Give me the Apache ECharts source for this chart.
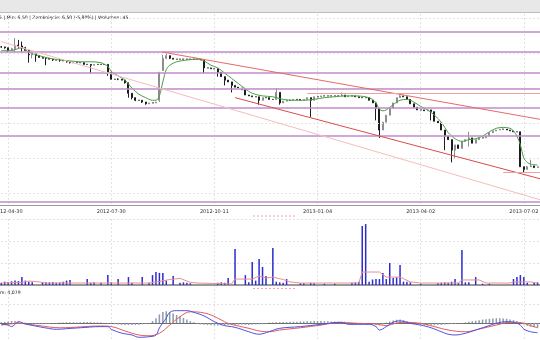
<!DOCTYPE html>
<html>
<head>
<meta charset="utf-8">
<script src="https://cdn.jsdelivr.net/npm/echarts@6/dist/echarts.min.js"></script>
<style>
html,body{margin:0;padding:0;background:#fff;}
#chart{width:540px;height:340px;}
</style>
</head>
<body>
<div id="chart"></div>
<script>
// Session index of the first visible candle (x axis counts sessions)
const firstIndex = 28;

// Date labels for every 30th session (30, 60, ... 180)
const tickLabels = ['2012-04-30', '2012-07-30', '2012-10-11', '2013-01-04', '2013-04-02', '2013-07-02'];

// Daily candles: [open, close, low, high]
const ohlc = [
  [7.87,7.87,7.86,7.88],[7.87,7.86,7.85,7.87],[7.86,7.83,7.81,7.86],[7.83,7.85,7.83,7.86],
  [7.85,7.89,7.81,7.97],[7.89,7.88,7.86,7.95],[7.88,7.86,7.81,7.93],[7.86,7.83,7.83,7.87],
  [7.83,7.78,7.69,7.83],[7.78,7.79,7.74,7.80],[7.79,7.77,7.70,7.79],[7.77,7.75,7.75,7.77],
  [7.75,7.74,7.74,7.75],[7.74,7.74,7.66,7.75],[7.74,7.73,7.73,7.74],[7.73,7.72,7.71,7.73],
  [7.72,7.72,7.72,7.72],[7.72,7.72,7.70,7.73],[7.72,7.71,7.71,7.72],[7.71,7.70,7.69,7.71],
  [7.70,7.69,7.68,7.70],[7.69,7.69,7.69,7.69],[7.69,7.69,7.69,7.69],[7.69,7.69,7.69,7.69],
  [7.69,7.67,7.67,7.69],[7.67,7.67,7.67,7.67],[7.67,7.66,7.57,7.67],[7.66,7.67,7.66,7.67],
  [7.67,7.67,7.67,7.67],[7.67,7.67,7.67,7.67],[7.67,7.67,7.67,7.67],[7.67,7.58,7.54,7.67],
  [7.58,7.50,7.50,7.58],[7.50,7.50,7.50,7.50],[7.50,7.50,7.49,7.51],[7.50,7.49,7.49,7.50],
  [7.49,7.46,7.45,7.49],[7.46,7.34,7.29,7.41],[7.34,7.29,7.27,7.34],[7.29,7.26,7.25,7.29],
  [7.26,7.26,7.26,7.26],[7.26,7.24,7.23,7.26],[7.24,7.22,7.21,7.24],[7.22,7.23,7.22,7.23],
  [7.23,7.23,7.23,7.23],[7.23,7.24,7.23,7.24],[7.26,7.58,7.24,7.58],[7.60,7.74,7.60,7.78],
  [7.74,7.77,7.73,7.80],[7.77,7.74,7.73,7.77],[7.74,7.73,7.73,7.74],[7.73,7.73,7.73,7.73],
  [7.73,7.73,7.73,7.73],[7.73,7.73,7.73,7.73],[7.73,7.73,7.73,7.73],[7.73,7.73,7.73,7.73],
  [7.73,7.73,7.73,7.73],[7.73,7.73,7.73,7.73],[7.73,7.72,7.72,7.73],[7.72,7.63,7.57,7.72],
  [7.63,7.63,7.63,7.63],[7.63,7.62,7.62,7.63],[7.62,7.62,7.62,7.62],[7.62,7.58,7.53,7.62],
  [7.58,7.53,7.53,7.58],[7.53,7.49,7.43,7.53],[7.49,7.47,7.47,7.49],[7.47,7.43,7.35,7.47],
  [7.43,7.41,7.41,7.43],[7.41,7.40,7.40,7.41],[7.40,7.38,7.38,7.40],[7.38,7.32,7.32,7.38],
  [7.32,7.31,7.31,7.32],[7.31,7.30,7.30,7.31],[7.30,7.30,7.30,7.30],[7.30,7.26,7.21,7.30],
  [7.26,7.29,7.26,7.29],[7.29,7.29,7.29,7.29],[7.29,7.27,7.27,7.29],[7.27,7.27,7.27,7.27],
  [7.27,7.35,7.27,7.40],[7.35,7.23,7.21,7.35],[7.23,7.25,7.23,7.25],[7.25,7.26,7.25,7.26],
  [7.26,7.26,7.26,7.26],[7.26,7.27,7.26,7.27],[7.27,7.27,7.27,7.27],[7.27,7.26,7.26,7.27],
  [7.26,7.27,7.26,7.27],[7.27,7.29,7.27,7.29],[7.29,7.26,7.07,7.29],[7.26,7.30,7.26,7.30],
  [7.30,7.30,7.30,7.30],[7.30,7.31,7.30,7.31],[7.31,7.31,7.31,7.31],[7.31,7.31,7.31,7.31],
  [7.31,7.31,7.31,7.31],[7.31,7.31,7.31,7.31],[7.31,7.31,7.31,7.31],[7.31,7.32,7.31,7.35],
  [7.32,7.30,7.30,7.32],[7.30,7.31,7.30,7.31],[7.31,7.31,7.31,7.31],[7.31,7.30,7.30,7.31],
  [7.30,7.29,7.29,7.30],[7.29,7.29,7.29,7.29],[7.29,7.29,7.29,7.29],[7.29,7.26,7.26,7.29],
  [7.26,7.23,7.23,7.26],[7.23,7.17,7.03,7.23],[7.17,6.92,6.83,7.17],[6.92,7.01,6.92,7.01],
  [7.01,7.09,7.01,7.09],[7.09,7.17,7.09,7.17],[7.17,7.23,7.17,7.23],[7.23,7.29,7.23,7.29],
  [7.29,7.31,7.29,7.32],[7.31,7.30,7.30,7.31],[7.30,7.27,7.27,7.30],[7.27,7.22,7.22,7.27],
  [7.22,7.18,7.18,7.22],[7.18,7.15,7.15,7.18],[7.15,7.15,7.15,7.15],[7.15,7.14,7.14,7.15],
  [7.14,7.15,7.14,7.15],[7.15,7.13,7.03,7.15],[7.13,7.02,7.02,7.13],[7.02,7.00,7.00,7.02],
  [7.00,6.92,6.92,7.00],[6.92,6.85,6.69,6.92],[6.85,6.81,6.81,6.85],[6.81,6.69,6.55,6.81],
  [6.69,6.75,6.60,6.75],[6.75,6.71,6.71,6.75],[6.71,6.79,6.71,6.79],[6.79,6.81,6.79,6.81],
  [6.81,6.83,6.73,6.90],[6.83,6.77,6.77,6.83],[6.77,6.81,6.77,6.81],[6.81,6.83,6.81,6.83],
  [6.83,6.83,6.83,6.83],[6.83,6.85,6.83,6.85],[6.85,6.89,6.85,6.89],[6.89,6.91,6.89,6.91],
  [6.91,6.92,6.91,6.92],[6.92,6.93,6.92,6.93],[6.93,6.93,6.93,6.93],[6.93,6.92,6.92,6.93],
  [6.92,6.91,6.91,6.92],[6.91,6.90,6.90,6.91],[6.90,6.90,6.90,6.90],[6.90,6.50,6.50,6.90],
  [6.50,6.47,6.44,6.50],[6.47,6.50,6.47,6.51],[6.50,6.51,6.50,6.58],[6.51,6.49,6.49,6.51],
  [6.49,6.50,6.49,6.50]
];

// Daily volume, one value per candle
const volume = [
  10,15,13,17,20,18,36,20,15,12,0,0,14,13,12,14,10,12,15,20,
  23,0,0,0,0,27,10,12,0,10,0,46,12,0,27,0,0,36,10,0,
  0,36,0,10,45,59,55,55,20,0,41,0,10,12,10,8,0,0,0,0,
  0,0,0,10,12,10,32,0,164,0,0,45,12,105,20,118,82,41,0,168,
  15,12,10,27,0,0,0,8,8,0,10,8,0,0,6,0,0,6,0,0,
  0,0,10,12,15,268,277,15,25,27,27,55,27,100,32,35,91,15,15,12,
  0,0,6,0,0,0,0,8,10,12,10,15,27,10,159,12,12,0,36,0,
  6,0,6,0,0,0,0,0,0,27,36,45,36,10,0,10,12
];

// Price moving average: [session, value]
const maPoints = [
  [28,7.83],[31,7.83],[34,7.86],[36,7.81],[39,7.77],[42,7.74],[45,7.72],[48,7.71],[51,7.70],
  [54,7.70],[57,7.69],[58,7.67],[59,7.65],[60,7.59],[62,7.54],[64,7.49],[66,7.40],[68,7.33],
  [70,7.29],[72,7.26],[73,7.26],[74,7.31],[75,7.47],[76,7.61],[77,7.66],[79,7.70],[82,7.72],
  [85,7.73],[87,7.71],[89,7.66],[91,7.63],[93,7.57],[95,7.51],[97,7.45],[99,7.39],[101,7.34],
  [104,7.31],[107,7.30],[110,7.27],[113,7.26],[116,7.26],[119,7.27],[122,7.29],[125,7.30],
  [128,7.31],[131,7.31],[134,7.30],[136,7.27],[137,7.23],[138,7.16],[139,7.14],[140,7.15],
  [142,7.21],[144,7.26],[146,7.27],[148,7.24],[150,7.19],[152,7.15],[154,7.09],[156,7.01],
  [157,6.95],[158,6.89],[160,6.82],[162,6.79],[164,6.81],[166,6.82],[168,6.85],[170,6.90],
  [172,6.94],[174,6.95],[176,6.94],[177,6.91],[178,6.85],[179,6.75],[180,6.60],[181,6.55],
  [182,6.53],[184,6.52]
];

// Volume moving average: [session, value]
const volMaPoints = [
  [28,9],[34,12],[36,18],[39,14],[41,9],[71,9],[74,16],[77,25],[80,30],[83,12],[85,9],
  [95,5],[96,27],[101,27],[103,41],[105,32],[107,36],[110,25],[112,14],[115,9],[132,9],
  [133,59],[138,59],[140,36],[144,36],[147,14],[150,9],[161,9],[162,23],[167,23],[169,9],
  [176,9],[177,14],[182,14],[184,9]
];

// MACD line and signal line: [session, value]
const macdPoints = [
  [28,-0.007],[30,-0.011],[31,-0.019],[33,0.007],[35,-0.005],[38,-0.016],[41,-0.026],[44,-0.033],
  [47,-0.030],[51,-0.025],[57,-0.019],[59,-0.019],[60,-0.033],[63,-0.053],[66,-0.063],[68,-0.075],
  [71,-0.072],[73,-0.063],[74,-0.026],[76,0.026],[77,0.056],[79,0.065],[82,0.065],[84,0.056],
  [87,0.037],[90,0.007],[93,-0.014],[95,-0.019],[97,-0.028],[100,-0.046],[103,-0.059],[106,-0.045],
  [109,-0.028],[115,-0.019],[121,-0.007],[127,0.004],[129,-0.007],[135,-0.007],[137,-0.019],
  [138,-0.037],[140,-0.019],[142,0.004],[144,0.011],[147,-0.002],[150,-0.011],[153,-0.025],
  [156,-0.046],[158,-0.059],[160,-0.063],[163,-0.054],[166,-0.037],[169,-0.019],[172,-0.002],
  [175,0.007],[177,0.004],[179,-0.011],[180,-0.032],[182,-0.046],[184,-0.051]
];
const signalPoints = [
  [28,-0.011],[33,-0.002],[39,-0.014],[45,-0.025],[57,-0.016],[60,-0.019],[64,-0.042],[68,-0.063],
  [71,-0.067],[74,-0.054],[77,-0.011],[80,0.033],[83,0.059],[86,0.056],[89,0.042],[92,0.016],
  [94,-0.002],[97,-0.016],[100,-0.028],[103,-0.042],[106,-0.046],[109,-0.037],[115,-0.025],
  [121,-0.011],[126,0.002],[132,-0.002],[137,-0.005],[140,-0.014],[142,-0.005],[145,0.004],
  [150,-0.002],[154,-0.019],[158,-0.037],[163,-0.046],[167,-0.032],[172,-0.011],[176,0.004],
  [179,0.002],[182,-0.014],[184,-0.025]
];
// MACD histogram, one value per candle
const histogram = [
  0.004,0.006,0.008,0.010, 0.010,0.007,0.004,0.002,
  -0.002,-0.004,-0.005,-0.006,-0.006,-0.005,-0.004,-0.003,-0.002,
  0.002,0.003,0.004,0.004,0.004,0.003,
  0.004,0.005,0.005,0.005,0.004,0.003,0.002,
  0.000,-0.002,-0.004,-0.006,-0.008,
  -0.010,-0.011,-0.011,-0.010,-0.010,-0.009,-0.007,-0.005,-0.002,
  0.010,0.025,0.045,0.058,0.062,0.058,0.050,0.042,0.035,0.027,0.018,0.010,0.004,
  -0.004,-0.007,-0.009,-0.011,-0.012,-0.013,-0.013,-0.012,-0.012,-0.011,-0.010,-0.010,-0.009,-0.009,
  -0.010,-0.010,-0.009,-0.008,-0.007,-0.006,-0.004,
  0.002,0.003,0.004,0.004,0.005,0.005,
  0.006,0.007,0.007,0.008,0.008,0.009,0.009,0.010,0.010,0.010,0.009,0.009,0.008,0.008,0.007,
  0.006,0.006,0.005,0.003,0.001,
  -0.002,-0.003,-0.003,-0.004,
  -0.008,-0.011,-0.013,-0.008,0.002,
  0.008,0.013,0.017,0.018,0.015,0.010,0.004,
  -0.004,-0.008,-0.010,-0.012,-0.013,-0.013,-0.012,-0.011,-0.010,-0.008,-0.007,
  -0.005,-0.004,-0.003,-0.001,
  0.003,0.006,0.009,0.012,0.015,0.018,0.020,0.022,0.024,0.025,0.025,0.024,0.022,0.019,0.015,0.010,0.004,
  -0.008,-0.015,-0.020,-0.023,-0.025
];

// Horizontal support / resistance levels
const supportLevels = [8.04, 7.81, 7.58, 7.39, 7.17, 6.85, 6.10];
// Dashed price grid levels
const priceGridLevels = [6.2, 6.6, 7.0, 7.4, 7.8, 8.2];
// Drawn trend lines: [[session, price], [session, price], colour]
const trendLines = [
  [[75, 7.81], [185, 7.04], '#e46a6a'],
  [[96, 7.29], [185, 6.36], '#d94c4c'],
  [[28, 7.93], [185, 6.12], '#f4bcbc'],
  [[117, 7.34], [185, 7.34], '#eaa2a2'],
  [[174, 6.44], [185, 6.44], '#eaa2a2']
];

const headerText = '5 | Min: 6,50 | Zamknięcie: 6,50 (-5,80%) | Wolumen: 45';
const macdText = 'm: 0,079';

const FONT = 'DejaVu Sans';
const gridDash = { color: '#e2e2e2', type: [2, 2], width: 1 };
const vSplit = { show: true, interval: 0, lineStyle: gridDash };

function xAxisBase(gridIndex, extra) {
  return Object.assign({
    type: 'value', gridIndex, min: 0, max: 185, interval: 30,
    axisTick: { show: false },
    axisLabel: { show: false },
    axisLine: { show: false },
    splitLine: vSplit
  }, extra);
}

function gridAt(top, bottom) {
  return { left: -95, right: -1, top, bottom, containLabel: false, outerBoundsMode: 'none' };
}

const chart = echarts.init(document.getElementById('chart'), null, { renderer: 'canvas' });

const option = {
  animation: false,
  backgroundColor: '#ffffff',
  textStyle: { fontFamily: FONT },
  grid: [
    gridAt(14, 135),   // price: y 14..205
    gridAt(219, 55),   // volume: y 219..285
    gridAt(285, -21)   // MACD: y 285..361
  ],
  xAxis: [
    xAxisBase(0, {
      axisLine: { show: true, lineStyle: { color: '#9a9a9a', width: 1 } },
      axisLabel: {
        show: true, fontSize: 5, color: '#333', margin: 4, fontFamily: FONT,
        formatter: v => tickLabels[v / 30 - 1] || ''
      }
    }),
    xAxisBase(1, { axisLine: { show: true, onZero: false, lineStyle: { color: '#9a9a9a', width: 2 } } }),
    xAxisBase(2, { axisLine: { show: true, onZero: true, lineStyle: { color: '#6e6e6e', width: 1 } } })
  ],
  yAxis: [
    { type: 'value', gridIndex: 0, min: 6.063, max: 8.246, show: true,
      axisLine: { show: false }, axisTick: { show: false }, axisLabel: { show: false }, splitLine: { show: false } },
    { type: 'value', gridIndex: 1, min: 0, max: 300, interval: 100,
      axisLine: { show: false }, axisTick: { show: false }, axisLabel: { show: false },
      splitLine: { show: true, lineStyle: gridDash } },
    { type: 'value', gridIndex: 2, min: -0.2, max: 0.2, interval: 0.1,
      axisLine: { show: false }, axisTick: { show: false }, axisLabel: { show: false },
      splitLine: { show: true, lineStyle: gridDash } }
  ],
  series: [
    // price grid, support levels and trend lines
    {
      type: 'line', xAxisIndex: 0, yAxisIndex: 0, data: [], silent: true,
      markLine: {
        silent: true, symbol: 'none', animation: false, label: { show: false },
        data: [
          ...priceGridLevels.map(v => ({ yAxis: v, lineStyle: { color: '#e4e4e4', type: [2, 2], width: 1 } })),
          ...supportLevels.map(v => ({ yAxis: v, lineStyle: { color: '#c18ccb', type: 'solid', width: 1.5 } })),
          ...trendLines.map(t => [
            { coord: t[0], lineStyle: { color: t[2], type: 'solid', width: 1 } },
            { coord: t[1] }
          ])
        ]
      }
    },
    {
      type: 'candlestick', xAxisIndex: 0, yAxisIndex: 0,
      data: ohlc.map((r, k) => [firstIndex + k, r[0], r[1], r[2], r[3]]),
      encode: { x: 0, y: [1, 2, 3, 4] },
      barWidth: 1.5,
      itemStyle: {
        color: '#8e8e8e', color0: '#1c1c1c',
        borderColor: '#8e8e8e', borderColor0: '#1c1c1c',
        borderColorDoji: '#1c1c1c', borderWidth: 1
      }
    },
    {
      type: 'line', xAxisIndex: 0, yAxisIndex: 0, data: maPoints,
      smooth: 0.3, symbol: 'none', lineStyle: { color: '#4a9e45', width: 1 }
    },
    // volume
    {
      type: 'bar', xAxisIndex: 1, yAxisIndex: 1,
      data: volume.map((v, k) => [firstIndex + k, v]),
      barWidth: 1.5, itemStyle: { color: '#2b2bd0' }
    },
    {
      type: 'line', xAxisIndex: 1, yAxisIndex: 1, data: volMaPoints,
      symbol: 'none', lineStyle: { color: '#e79090', width: 1 }
    },
    // MACD
    {
      type: 'bar', xAxisIndex: 2, yAxisIndex: 2,
      data: histogram.map((v, k) => [firstIndex + k, v]),
      barWidth: 1.5, itemStyle: { color: '#8b9bab' }
    },
    {
      type: 'line', xAxisIndex: 2, yAxisIndex: 2, data: signalPoints,
      smooth: 0.4, symbol: 'none', lineStyle: { color: '#e35b5b', width: 1 }
    },
    {
      type: 'line', xAxisIndex: 2, yAxisIndex: 2, data: macdPoints,
      smooth: 0.4, symbol: 'none', lineStyle: { color: '#5050e0', width: 1 }
    }
  ],
  graphic: [
    { type: 'rect', left: 0, top: 0, shape: { width: 540, height: 12 }, style: { fill: '#e8e8e8' }, silent: true },
    { type: 'line', shape: { x1: 0, y1: 12.5, x2: 540, y2: 12.5 }, style: { stroke: '#bcbcbc', lineWidth: 1 }, silent: true },
    { type: 'text', left: -1, top: 15, style: { text: headerText, fill: '#111', font: '4.6px "DejaVu Sans"' }, silent: true },
    { type: 'text', left: 0, top: 290, style: { text: macdText, fill: '#111', font: '4.6px "DejaVu Sans"' }, silent: true },
    { type: 'line', shape: { x1: 253, y1: 216, x2: 297, y2: 216 }, style: { stroke: '#f0a4a4', lineWidth: 1, lineDash: [2, 2] }, silent: true },
    { type: 'line', shape: { x1: 253, y1: 288.5, x2: 297, y2: 288.5 }, style: { stroke: '#f0a4a4', lineWidth: 1, lineDash: [2, 2] }, silent: true }
  ]
};

chart.setOption(option);
</script>
</body>
</html>
